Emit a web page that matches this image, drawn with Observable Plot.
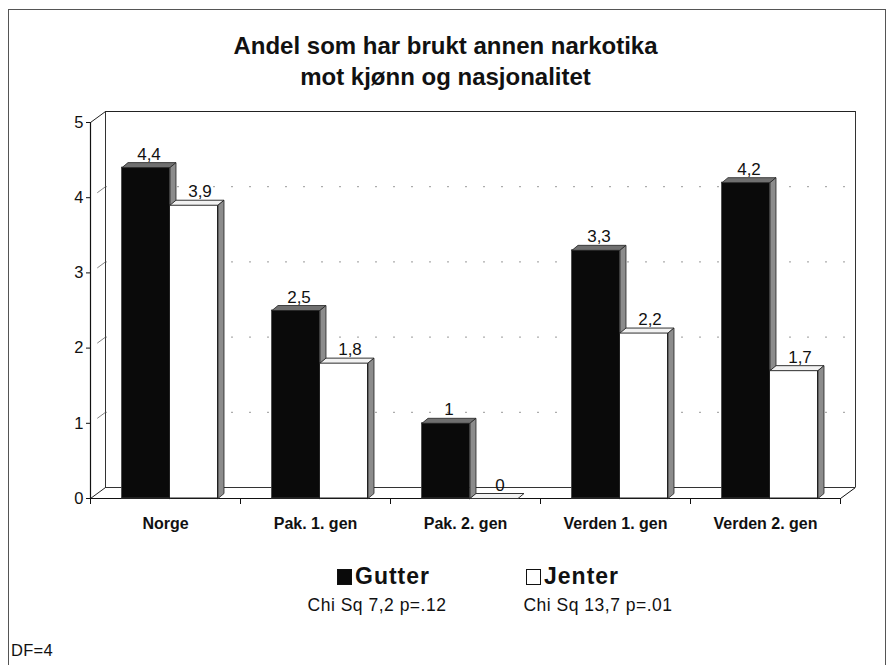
<!DOCTYPE html>
<html>
<head>
<meta charset="utf-8">
<script src="https://cdn.jsdelivr.net/npm/d3@7"></script>
<script src="https://cdn.jsdelivr.net/npm/@observablehq/plot@0.6"></script>
<style>
  html, body { margin: 0; padding: 0; background: #fff; }
  #page { position: relative; width: 891px; height: 665px; overflow: hidden; font-family: "Liberation Sans", Arial, sans-serif; color: #111; }
  #border { position: absolute; left: 8px; top: 9px; width: 878px; height: 700px; border: 1px solid #555; box-sizing: border-box; }
  #title { position: absolute; left: 0; width: 891px; top: 30px; text-align: center; font-weight: bold; font-size: 24px; line-height: 31px; }
  #chart { position: absolute; left: 0; top: 0; }
  .leg { position: absolute; font-weight: bold; font-size: 23px; line-height: 24px; letter-spacing: 1px; white-space: nowrap; }
  .sw { display: inline-block; width: 15px; height: 16px; box-sizing: border-box; border: 1.5px solid #111; margin-right: 3px; vertical-align: -1px; }
  .chi { position: absolute; font-size: 17.5px; line-height: 18px; letter-spacing: 0.5px; text-align: center; width: 240px; white-space: nowrap; }
  #df { position: absolute; left: 11px; top: 641px; font-size: 16.5px; letter-spacing: 0.3px; }
</style>
</head>
<body>
<div id="page">
  <div id="border"></div>
  <div id="chart"></div>
  <div id="title"></div>
  <div id="legend"></div>
  <div id="df"></div>
</div>
<script>
// ---------------- data ----------------
const categories = ["Norge", "Pak. 1. gen", "Pak. 2. gen", "Verden 1. gen", "Verden 2. gen"];
const gutter = [4.4, 2.5, 1, 3.3, 4.2];
const jenter = [3.9, 1.8, 0, 2.2, 1.7];
const seriesNames = ["Gutter", "Jenter"];
const chiSq = ["Chi Sq 7,2 p=.12", "Chi Sq 13,7 p=.01"];
const yTicks = [0, 1, 2, 3, 4, 5];
const titleLines = ["Andel som har brukt annen narkotika", "mot kjønn og nasjonalitet"];
const noteText = "DF=4";

// ---------------- layout (pixels) ----------------
const W = 891, H = 665;
const mL = 90, mR = 51, mT = 122, mB = 167;
const pxX = (W - mL - mR) / categories.length;   // px per category unit
const pxY = (H - mT - mB) / 5;                    // px per y unit
const WDX = 15 / pxX, WDY = 11 / pxY;             // wall depth (data units)
const BDX = 6 / pxX, BDY = 5 / pxY;               // bar depth (data units)
const G0 = 0.21, G1 = 0.53, J1 = 0.85;            // bar offsets inside a category

const fmt = v => String(v).replace(".", ",");

function bars(values, a, b) {
  return values.map((v, i) => ({i, v, x1: i + a, x2: i + b}));
}
const gBars = bars(gutter, G0, G1);
const jBars = bars(jenter, G1, J1);

function topFaces(bs) {
  const out = [];
  bs.forEach((d, k) => {
    const pts = [[d.x1, d.v], [d.x2, d.v], [d.x2 + BDX, d.v + BDY], [d.x1 + BDX, d.v + BDY], [d.x1, d.v]];
    pts.forEach(p => out.push({x: p[0], y: p[1], z: k}));
  });
  return out;
}
function sideFaces(bs) {
  const out = [];
  bs.forEach((d, k) => {
    if (d.v <= 0) return;
    const pts = [[d.x2, 0], [d.x2, d.v], [d.x2 + BDX, d.v + BDY], [d.x2 + BDX, BDY], [d.x2, 0]];
    pts.forEach(p => out.push({x: p[0], y: p[1], z: k}));
  });
  return out;
}

const nCat = categories.length;
const yMax = d3.max(yTicks);
const gridVals = yTicks.filter(t => t > 0 && t < yMax);
const xTicks = d3.range(nCat + 1);

const plot = Plot.plot({
  width: W, height: H,
  marginLeft: mL, marginRight: mR, marginTop: mT, marginBottom: mB,
  x: {domain: [0, nCat], axis: null},
  y: {domain: [0, yMax], axis: null},
  style: {fontFamily: "'Liberation Sans', Arial, sans-serif", fontSize: "16px", color: "#111", background: "transparent"},
  marks: [
    // back wall grid (faint dotted)
    Plot.ruleY(gridVals, {y: d => d + WDY, x1: WDX, x2: nCat + WDX, stroke: "#999", strokeWidth: 1, strokeDasharray: "2,16"}),
    // back wall frame
    Plot.ruleY([yMax], {y: d => d + WDY, x1: WDX, x2: nCat + WDX, stroke: "#222", strokeWidth: 1}),
    Plot.ruleY([0], {y: d => d + WDY, x1: WDX, x2: nCat + WDX, stroke: "#333", strokeWidth: 1}),
    Plot.ruleX([WDX, nCat + WDX], {x: d => d, y1: WDY, y2: yMax + WDY, stroke: "#333", strokeWidth: 1}),
    // left side wall diagonals: full at 0 and max, partial (faint) in between
    Plot.link([0, yMax], {x1: 0, y1: d => d, x2: WDX, y2: d => d + WDY, stroke: "#222", strokeWidth: 1}),
    Plot.link(gridVals, {x1: WDX * 0.45, y1: d => d + WDY * 0.45, x2: WDX, y2: d => d + WDY, stroke: "#666", strokeWidth: 0.8}),
    // floor front edge + right diagonal
    Plot.ruleY([0], {x1: 0, x2: nCat, stroke: "#111", strokeWidth: 1.2}),
    Plot.link([nCat], {x1: d => d, y1: 0, x2: d => d + WDX, y2: WDY, stroke: "#111", strokeWidth: 1}),
    // front y axis
    Plot.ruleX([0], {y1: 0, y2: yMax, stroke: "#111", strokeWidth: 1.2}),
    Plot.ruleY(yTicks, {x1: -4 / pxX, x2: 0, stroke: "#111"}),
    Plot.text(yTicks, {x: 0, y: d => d, dx: -7, textAnchor: "end", text: d => String(d), fontSize: 16.5}),
    // x ticks at category boundaries
    Plot.ruleX(xTicks, {x: d => d, y1: 0, y2: -6 / pxY, stroke: "#111"}),
    Plot.text(categories, {x: (d, i) => i + 0.5, y: 0, dy: 25, text: d => d, fontWeight: "bold", fontSize: 16, style: "letter-spacing:0.8px"}),

    // Gutter bars
    Plot.rectY(gBars, {x1: "x1", x2: "x2", y1: 0, y2: "v", fill: "#0a0a0a", stroke: "#444", strokeWidth: 0.8}),
    Plot.line(topFaces(gBars), {x: "x", y: "y", z: "z", fill: "#707070", stroke: "#222", strokeWidth: 0.8}),
    Plot.line(sideFaces(gBars), {x: "x", y: "y", z: "z", fill: "#8c8c8c", stroke: "#222", strokeWidth: 0.8}),
    // Jenter bars
    Plot.rectY(jBars.filter(d => d.v > 0), {x1: "x1", x2: "x2", y1: 0, y2: "v", fill: "#fff", stroke: "#222", strokeWidth: 1}),
    Plot.line(topFaces(jBars), {x: "x", y: "y", z: "z", fill: "#f2f2f2", stroke: "#333", strokeWidth: 1}),
    Plot.line(sideFaces(jBars), {x: "x", y: "y", z: "z", fill: "#8c8c8c", stroke: "#222", strokeWidth: 0.8}),

    // value labels
    Plot.text(gBars, {x: d => (d.x1 + d.x2) / 2 + BDX / 2, y: d => d.v + BDY, dy: -3, lineAnchor: "bottom", text: d => fmt(d.v), fontSize: 17}),
    Plot.text(jBars, {x: d => (d.x1 + d.x2) / 2 + BDX, y: d => d.v + BDY, dy: -3, lineAnchor: "bottom", text: d => fmt(d.v), fontSize: 17})
  ]
});
document.getElementById("chart").appendChild(plot);

// title
document.getElementById("title").innerHTML = titleLines.map(t => `<div>${t}</div>`).join("");

// legend
const legend = document.getElementById("legend");
const legX = [337, 526];
const chiX = [377, 598];
const swFill = ["#0a0a0a", "#fff"];
seriesNames.forEach((name, k) => {
  const el = document.createElement("div");
  el.className = "leg";
  el.style.left = legX[k] + "px";
  el.style.top = "564px";
  el.innerHTML = `<span class="sw" style="background:${swFill[k]}"></span>${name}`;
  legend.appendChild(el);
  const c = document.createElement("div");
  c.className = "chi";
  c.style.left = (chiX[k] - 120) + "px";
  c.style.top = "596px";
  c.textContent = chiSq[k];
  legend.appendChild(c);
});
document.getElementById("df").textContent = noteText;
</script>
</body>
</html>
